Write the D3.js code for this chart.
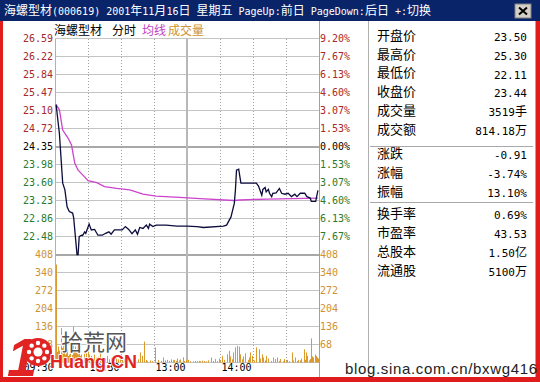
<!DOCTYPE html>
<html>
<head>
<meta charset="utf-8">
<script src="https://cdn.jsdelivr.net/npm/d3@7"></script>
<style>
  body { margin: 0; background: #fff; }
  svg { display: block; }
  text { white-space: pre; }
</style>
</head>
<body>
<svg id="chart" width="540" height="382"></svg>
<script>
/*
 * Intraday (分时) chart of 海螺型材 000619, 2001-11-16.
 * Minutes run 0..240 (09:30-11:30, 13:00-15:00).
 */

var title = "海螺型材(000619) 2001年11月16日 星期五 PageUp:前日 PageDown:后日 +:切换";

var priceLabels = ["26.59", "26.22", "25.84", "25.47", "25.10", "24.72", "24.35",
                   "23.98", "23.60", "23.23", "22.86", "22.48"];
var pctLabels = ["9.20%", "7.67%", "6.13%", "4.60%", "3.07%", "1.53%", "0.00%",
                 "1.53%", "3.07%", "4.60%", "6.13%", "7.67%"];
var volLabels = [408, 340, 272, 204, 136, 68];
var timeTicks = [0, 60, 120, 180];
var timeLabels = ["09:30", "10:30", "13:00", "14:00"];

// [minute, price]
var priceLine = [
  [1, 25.22], [4, 24.62], [7, 23.59], [9, 23.45], [11, 23.10], [13, 23.00], [16, 22.97],
  [17, 22.87], [20, 22.11], [21, 22.11], [22, 22.48], [24, 22.51], [25, 22.50], [27, 22.58],
  [28, 22.55], [31, 22.74], [33, 22.62], [36, 22.63], [39, 22.51], [43, 22.51], [46, 22.55],
  [49, 22.58], [51, 22.53], [54, 22.62], [61, 22.62], [64, 22.69], [67, 22.63], [70, 22.54],
  [73, 22.62], [75, 22.53], [77, 22.67], [80, 22.65], [83, 22.72], [85, 22.65], [86, 22.74],
  [89, 22.69], [92, 22.72], [101, 22.72], [111, 22.70], [120, 22.70], [129, 22.69],
  [135, 22.67], [153, 22.70], [156, 22.72], [160, 22.89], [163, 23.17], [164, 23.44],
  [165, 23.86], [167, 23.88], [169, 23.59], [183, 23.59], [185, 23.53], [188, 23.34],
  [189, 23.46], [191, 23.50], [192, 23.41], [194, 23.46], [195, 23.38], [197, 23.31],
  [198, 23.38], [201, 23.39], [204, 23.48], [206, 23.38], [209, 23.36], [212, 23.38],
  [215, 23.31], [218, 23.36], [220, 23.31], [223, 23.38], [227, 23.38], [229, 23.31],
  [232, 23.28], [233, 23.21], [237, 23.21], [239, 23.44]
];

// [minute, price] of the magenta average line
var avgLine = [
  [1, 25.22], [4, 25.11], [7, 24.69], [12, 24.52], [15, 24.38], [18, 24.00], [21, 23.86],
  [26, 23.74], [30, 23.64], [38, 23.60], [45, 23.52], [56, 23.48], [68, 23.45], [80, 23.36],
  [92, 23.32], [117, 23.29], [132, 23.27], [163, 23.23], [168, 23.24], [193, 23.26],
  [239, 23.28]
];

// [minute, volume in 手]
var volumes = [
  [1, 370], [2, 40], [3, 60], [4, 45], [5, 130], [6, 55], [7, 70], [8, 40], [9, 30], [10, 35],
  [11, 50], [12, 25], [13, 30], [14, 40], [15, 28], [16, 135], [17, 45], [18, 60], [19, 38],
  [20, 65], [21, 30], [22, 40], [23, 25], [24, 30], [26, 45], [27, 20], [28, 35], [30, 40],
  [31, 30], [33, 25], [35, 30], [37, 18], [39, 22], [41, 35], [43, 20], [45, 15], [47, 25],
  [49, 12], [51, 18], [53, 10], [55, 15], [57, 12], [59, 20], [61, 10], [63, 14], [65, 8],
  [67, 12], [69, 10], [71, 29], [73, 8], [75, 12], [77, 38], [79, 25], [81, 79], [83, 10],
  [84, 6], [86, 8], [88, 5], [91, 57], [94, 10], [96, 6], [98, 19], [100, 8], [102, 10],
  [104, 6], [105, 12], [107, 8], [108, 10], [110, 6], [111, 15], [113, 8], [114, 12],
  [116, 20], [117, 6], [119, 10],
  [121, 10], [123, 5], [125, 4], [127, 6], [129, 5], [131, 6], [132, 5], [134, 7], [135, 6],
  [137, 4], [139, 8], [142, 19], [144, 6], [145, 13], [147, 5], [149, 15], [150, 8], [152, 25],
  [154, 10], [156, 31], [158, 44], [159, 23], [161, 12], [162, 38], [164, 57], [165, 63],
  [167, 60], [168, 31], [170, 12], [171, 23], [173, 35], [175, 10], [176, 19], [177, 38],
  [179, 25], [181, 8], [183, 57], [185, 50], [186, 15], [188, 31], [189, 19], [191, 8],
  [192, 25], [194, 15], [196, 6], [198, 19], [200, 13], [202, 19], [204, 6], [205, 13],
  [207, 5], [208, 13], [210, 6], [211, 10], [213, 5], [215, 38], [216, 8], [218, 19],
  [220, 6], [221, 10], [223, 8], [224, 15], [226, 50], [227, 10], [228, 38], [229, 25],
  [231, 8], [232, 13], [233, 91], [234, 23], [235, 19], [236, 30], [237, 25], [238, 19],
  [239, 15]
];

var quoteTop = [["开盘价", "23.50"], ["最高价", "25.30"], ["最低价", "22.11"],
                ["收盘价", "23.44"], ["成交量", "3519手"], ["成交额", "814.18万"]];
var quoteMid = [["涨跌", "-0.91"], ["涨幅", "-3.74%"], ["振幅", "13.10%"]];
var quoteBot = [["换手率", "0.69%"], ["市盈率", "43.53"], ["总股本", "1.50亿"], ["流通股", "5100万"]];

var RED = "#a82828", GREEN = "#2a7a2a", ORANGE = "#cf9232", VOLBAR = "#dc9a2c";
var MONO = "DejaVu Sans Mono", CJK = "Noto Sans CJK SC";

function mixed(sel, str, cjkSize, asciiSize) {
  /* Split a string into ascii / CJK runs so each gets its own font. */
  str.match(/[\x00-\x7f]+|[^\x00-\x7f]+/g).forEach(function(r) {
    var ascii = /^[\x00-\x7f]/.test(r);
    sel.append("tspan")
      .attr("font-family", ascii ? MONO : CJK)
      .attr("font-size", ascii ? asciiSize : cjkSize)
      .text(r);
  });
  return sel;
}

function snap(v) { return Math.round(v - 0.5) + 0.5; }

var svg = d3.select("#chart");

// window frame
svg.append("rect").attr("width", 540).attr("height", 382).attr("fill", "#e01c1c");
svg.append("rect").attr("x", 3).attr("y", 0).attr("width", 532.5).attr("height", 377).attr("fill", "#fff");
svg.append("rect").attr("x", 0).attr("y", 0).attr("width", 540).attr("height", 21).attr("fill", "#0a246a");
mixed(svg.append("text").attr("x", 4).attr("y", 15).attr("fill", "#fff"), title, 12, 10);

// close button
var btn = svg.append("g").attr("transform", "translate(515,4)");
btn.append("rect").attr("width", 16).attr("height", 14).attr("fill", "#d4d0c8")
  .attr("stroke", "#808080");
btn.append("path").attr("d", "M4,3.5L12,10.5M12,3.5L4,10.5").attr("stroke", "#000").attr("stroke-width", 2);

var x = d3.scaleLinear().domain([0, 240]).range([55, 319]);
var y = d3.scaleLinear().domain([22.11, 26.59]).range([254.5, 38.5]);
var yv = d3.scaleLinear().domain([0, 408]).range([362.5, 254.5]);

var priceVals = priceLabels.map(Number);

// horizontal grid
var grid = svg.append("g").attr("stroke", "#c4c4c4").attr("shape-rendering", "crispEdges");
grid.selectAll(".hp").data(priceVals).enter().append("line")
  .attr("x1", 55).attr("x2", 319)
  .attr("y1", function(d) { return snap(y(d)); })
  .attr("y2", function(d) { return snap(y(d)); })
  .attr("stroke-width", function(d, i) { return i === 6 ? 2 : 1; })
  .attr("stroke", function(d, i) { return i === 6 ? "#a8a8a8" : null; });
grid.selectAll(".hv").data(volLabels.slice(1).concat([0])).enter().append("line")
  .attr("x1", 55).attr("x2", 319)
  .attr("y1", function(d) { return snap(yv(d)); })
  .attr("y2", function(d) { return snap(yv(d)); });
grid.append("line").attr("x1", 55).attr("x2", 319)
  .attr("y1", snap(yv(408))).attr("y2", snap(yv(408)))
  .attr("stroke", "#a8a8a8").attr("stroke-width", 2);

// vertical grid
grid.selectAll(".vd").data([30, 60, 90, 150, 180, 210]).enter().append("line")
  .attr("x1", function(d) { return snap(x(d)); })
  .attr("x2", function(d) { return snap(x(d)); })
  .attr("y1", 38.5).attr("y2", 362.5)
  .attr("stroke", "#a0a0a0").attr("stroke-dasharray", "1,2");
grid.append("line").attr("x1", x(120)).attr("x2", x(120)).attr("y1", 38.5).attr("y2", 362.5)
  .attr("stroke", "#b8b8b8").attr("stroke-width", 2);
grid.append("line").attr("x1", snap(x(0))).attr("x2", snap(x(0))).attr("y1", 38.5).attr("y2", 362.5)
  .attr("stroke", "#b0b0b0");
grid.append("line").attr("x1", snap(x(240))).attr("x2", snap(x(240))).attr("y1", 21).attr("y2", 377)
  .attr("stroke", "#a0a0a0");
grid.append("line").attr("x1", 368.5).attr("x2", 368.5).attr("y1", 21).attr("y2", 377)
  .attr("stroke", "#b0b0b0");

// axes
function styleAxis(g, colorFn) {
  g.select(".domain").remove();
  g.selectAll("line").remove();
  g.selectAll("text")
    .attr("font-family", MONO).attr("font-size", 10)
    .attr("fill", colorFn);
}
function signColor(d, i) { return i < 6 ? RED : (i === 6 ? "#000" : GREEN); }

svg.append("g").attr("transform", "translate(53,0)")
  .call(d3.axisLeft(y).tickValues(priceVals).tickSize(0).tickPadding(0)
    .tickFormat(function(d, i) { return priceLabels[i]; }))
  .call(styleAxis, signColor);
svg.append("g").attr("transform", "translate(320,0)")
  .call(d3.axisRight(y).tickValues(priceVals).tickSize(0).tickPadding(0)
    .tickFormat(function(d, i) { return pctLabels[i]; }))
  .call(styleAxis, signColor);
svg.append("g").attr("transform", "translate(53,0)")
  .call(d3.axisLeft(yv).tickValues(volLabels).tickSize(0).tickPadding(0))
  .call(styleAxis, ORANGE);
svg.append("g").attr("transform", "translate(320,0)")
  .call(d3.axisRight(yv).tickValues(volLabels).tickSize(0).tickPadding(0))
  .call(styleAxis, ORANGE);
svg.append("g").attr("transform", "translate(0,364)")
  .call(d3.axisBottom(x).tickValues(timeTicks).tickSize(0).tickPadding(0)
    .tickFormat(function(d, i) { return timeLabels[i]; }))
  .call(styleAxis, "#000")
  .selectAll("text").attr("text-anchor", "end").attr("dx", -2);

// header in chart
var head = svg.append("text").attr("y", 35).attr("font-family", CJK).attr("font-size", 12);
head.append("tspan").attr("x", 54).attr("fill", "#000").text("海螺型材");
head.append("tspan").attr("x", 112).attr("fill", "#000").text("分时");
head.append("tspan").attr("x", 142).attr("fill", "#c23ec2").text("均线");
head.append("tspan").attr("x", 168).attr("fill", ORANGE).text("成交量");

// volume bars
svg.append("g").selectAll("rect").data(volumes).enter().append("rect")
  .attr("x", function(d) { return Math.round(x(d[0])); })
  .attr("width", 1)
  .attr("y", function(d) { return yv(d[1]); })
  .attr("height", function(d) { return yv(0) - yv(d[1]); })
  .attr("fill", VOLBAR);

// lines
var line = d3.line().x(function(d) { return x(d[0]); }).y(function(d) { return y(d[1]); });
svg.append("path").datum(avgLine).attr("d", line)
  .attr("fill", "none").attr("stroke", "#cc44cc").attr("stroke-width", 1.3);
svg.append("path").datum(priceLine).attr("d", line)
  .attr("fill", "none").attr("stroke", "#0c0c3c").attr("stroke-width", 1.3);

// quote panel
function quoteRows(rows, top) {
  rows.forEach(function(r, i) {
    var cy = top + i * 18.9;
    svg.append("text").attr("x", 377).attr("y", cy).attr("dy", "0.36em")
      .attr("font-family", CJK).attr("font-size", 13).text(r[0]);
    mixed(svg.append("text").attr("x", 527).attr("y", cy).attr("dy", "0.36em")
      .attr("text-anchor", "end"), r[1], 12, 11);
  });
}
quoteRows(quoteTop, 35);
quoteRows(quoteMid, 153.5);
quoteRows(quoteBot, 213.5);
svg.append("line").attr("x1", 370).attr("x2", 533).attr("y1", 146.5).attr("y2", 146.5).attr("stroke", "#a8a8a8");
svg.append("line").attr("x1", 370).attr("x2", 533).attr("y1", 202.5).attr("y2", 202.5).attr("stroke", "#a8a8a8");

// watermarks
svg.append("text").attr("x", 345).attr("y", 374).attr("font-family", "Liberation Sans")
  .attr("font-size", 15).attr("textLength", 192).attr("fill", "#222")
  .text("blog.sina.com.cn/bxwg416");

var wm = svg.append("g");
wm.append("text").attr("x", 7).attr("y", 376).attr("font-family", "Liberation Sans")
  .attr("font-weight", "bold").attr("font-style", "italic").attr("font-size", 54)
  .attr("fill", "#e02424").text("1");
wm.append("circle").attr("cx", 38).attr("cy", 352).attr("r", 14).attr("fill", "#e02424");
wm.append("circle").attr("cx", 38).attr("cy", 352).attr("r", 4.5).attr("fill", "#fff");
d3.range(8).forEach(function(k) {
  var a = k * Math.PI / 4;
  wm.append("circle").attr("cx", 38 + 9 * Math.cos(a)).attr("cy", 352 + 9 * Math.sin(a))
    .attr("r", 2.2).attr("fill", "#fff");
});
wm.append("text").attr("x", 61).attr("y", 350).attr("font-family", CJK).attr("font-size", 22)
  .attr("fill", "#555").attr("stroke", "#fff").attr("stroke-width", 2).attr("paint-order", "stroke")
  .text("拾荒网");
wm.append("text").attr("x", 50).attr("y", 368).attr("font-family", "Liberation Sans")
  .attr("font-size", 18).attr("font-weight", "bold").attr("fill", "#e02424")
  .attr("stroke", "#fff").attr("stroke-width", 1.5).attr("paint-order", "stroke")
  .text("Huang.CN");
</script>
</body>
</html>
